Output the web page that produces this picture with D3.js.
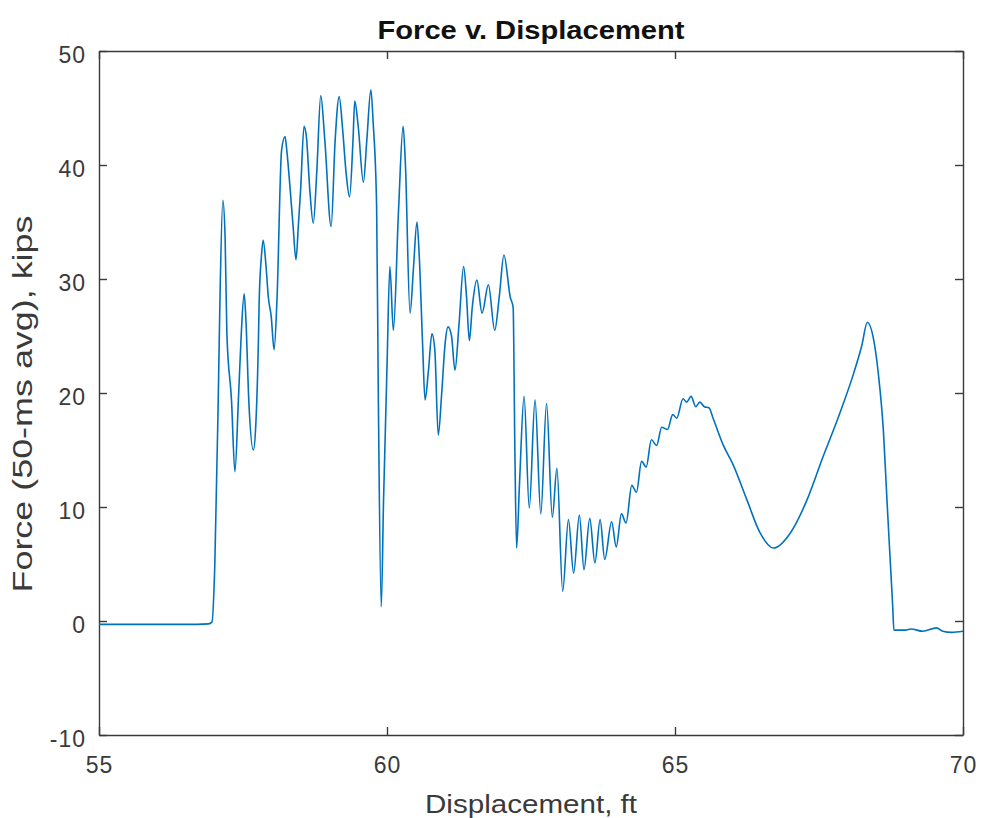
<!DOCTYPE html>
<html>
<head>
<meta charset="utf-8">
<script src="https://cdn.jsdelivr.net/npm/d3@7"></script>
<style>
  body { margin: 0; background: #fff; }
  text { font-family: "Liberation Sans", Arial, Helvetica, sans-serif; }
</style>
</head>
<body>
<div id="chart"></div>
<script>
// Displacement (ft) and force (kips)
var displacement = [
  55.00, 55.50, 56.00, 56.50, 56.90, 56.96, 57.01, 57.07, 57.10, 57.15,
  57.19, 57.22, 57.30, 57.36, 57.42, 57.47, 57.52, 57.55, 57.60, 57.68,
  57.72, 57.77, 57.78, 57.82, 57.85, 57.90, 57.94, 57.99, 58.04, 58.09,
  58.17, 58.23, 58.26, 58.32, 58.37, 58.42, 58.46, 58.50, 58.56, 58.60,
  58.66, 58.72, 58.78, 58.85, 58.92, 59.03, 59.10, 59.17, 59.23, 59.29,
  59.35, 59.41, 59.44, 59.50, 59.59, 59.65, 59.72, 59.76, 59.82, 59.85,
  59.90, 59.94, 60.00, 60.05, 60.11, 60.20, 60.28, 60.32, 60.40, 60.46,
  60.52, 60.56, 60.62, 60.66, 60.72, 60.78, 60.83, 60.89, 60.95, 61.01,
  61.06, 61.12, 61.18, 61.25, 61.33, 61.38, 61.43, 61.48, 61.56, 61.65,
  61.76, 61.87, 61.95, 62.03, 62.14, 62.19, 62.22, 62.25, 62.30, 62.38,
  62.47, 62.57, 62.67, 62.77, 62.87, 62.95, 63.05, 63.15, 63.24, 63.34,
  63.42, 63.52, 63.61, 63.70, 63.78, 63.90, 63.98, 64.07, 64.15, 64.25,
  64.33, 64.42, 64.50, 64.59, 64.68, 64.77, 64.87, 64.96, 65.03, 65.14,
  65.20, 65.28, 65.36, 65.43, 65.51, 65.59, 65.66, 65.84, 66.01, 66.25,
  66.48, 66.71, 67.00, 67.29, 67.57, 67.86, 68.10, 68.24, 68.34, 68.44,
  68.53, 68.62, 68.68, 68.73, 68.78, 68.80, 69.00, 69.10, 69.30, 69.54,
  69.65, 69.80, 70.00
]
var force = [
  -0.3, -0.3, -0.3, -0.3, -0.25, -0.1, 4.8, 19.4, 28.2, 36.9,
  33.5, 25.2, 19.4, 13.1, 19.4, 25.2, 28.7, 26.5, 19.4, 15.0,
  17.0, 25.2, 27.9, 32.0, 33.4, 31.1, 28.4, 26.7, 23.8, 28.2,
  41.3, 42.5, 41.3, 37.8, 34.6, 31.7, 34.6, 37.8, 43.4, 42.5,
  37.8, 34.9, 39.3, 46.1, 42.2, 34.6, 42.2, 46.0, 43.1, 39.3,
  37.2, 42.2, 45.6, 43.4, 38.5, 42.2, 46.6, 43.7, 36.3, 19.4,
  1.25, 10.6, 22.3, 31.1, 25.5, 36.0, 43.4, 40.0, 27.0, 31.0,
  35.0, 32.0, 24.0, 19.4, 22.0, 25.2, 23.8, 16.3, 20.0, 24.4,
  25.8, 25.0, 22.0, 26.0, 31.1, 28.5, 24.6, 27.5, 29.9, 27.0,
  29.5, 25.5, 28.5, 32.1, 28.4, 27.5, 15.0, 6.4, 12.0, 19.7,
  9.9, 19.4, 9.4, 19.1, 9.1, 13.4, 2.6, 8.9, 4.2, 9.3,
  4.5, 9.0, 5.1, 8.9, 5.4, 8.7, 6.5, 9.4, 8.6, 11.9,
  11.3, 14.0, 13.5, 15.9, 15.4, 17.0, 16.8, 18.1, 17.8, 19.5,
  19.2, 19.7, 18.8, 19.2, 18.8, 18.7, 17.8, 15.4, 13.7, 10.6,
  7.7, 6.4, 7.7, 10.6, 14.4, 18.2, 21.7, 24.1, 26.2, 24.9,
  21.7, 16.5, 10.6, 5.9, 1.25, -0.8, -0.8, -0.7, -0.9, -0.6,
  -0.9, -1.0, -0.9
]

var xTicks = [55, 60, 65, 70]
var yTicks = [-10, 0, 10, 20, 30, 40, 50]

var titleText = 'Force v. Displacement'
var xLabelText = 'Displacement, ft'
var yLabelText = 'Force (50-ms avg), kips'

// Size of page and plot box
const width = 981
const height = 818
const margin = { top: 51, right: 18, bottom: 83, left: 99 }
const innerW = width - margin.left - margin.right
const innerH = height - margin.top - margin.bottom

var svg = d3
  .select('#chart')
  .append('svg')
  .attr('width', width)
  .attr('height', height)

var g = svg.append('g')
  .attr('transform', 'translate(' + margin.left + ',' + margin.top + ')')

var x = d3.scaleLinear().domain([55, 70]).range([0, innerW])
var y = d3.scaleLinear().domain([-10, 50]).range([innerH, 0])

var axisColor = '#3a3a3a'
// plain hyphen for negatives, like MATLAB
var plain = function (d) { return String(d) }

// Axes, ticks point inward like MATLAB (box on)
var xAxis = g.append('g')
  .attr('transform', 'translate(0,' + innerH + ')')
  .call(d3.axisBottom(x).tickValues(xTicks).tickFormat(plain).tickSize(-8).tickSizeOuter(0).tickPadding(22))
var yAxis = g.append('g')
  .call(d3.axisLeft(y).tickValues(yTicks).tickFormat(plain).tickSize(-8).tickSizeOuter(0).tickPadding(13))
var topAxis = g.append('g')
  .call(d3.axisTop(x).tickValues(xTicks).tickSize(-8).tickSizeOuter(0).tickFormat(''))
var rightAxis = g.append('g')
  .attr('transform', 'translate(' + innerW + ',0)')
  .call(d3.axisRight(y).tickValues(yTicks).tickSize(-8).tickSizeOuter(0).tickFormat(''))

g.selectAll('.domain, .tick line')
  .attr('stroke', axisColor)
  .attr('stroke-width', 1.4)

xAxis.selectAll('text')
  .attr('font-size', 23)
  .attr('letter-spacing', 1)
  .attr('fill', '#3a3a3a')
  .attr('dy', '0.7em')
yAxis.selectAll('text')
  .attr('font-size', 23)
  .attr('letter-spacing', 1)
  .attr('fill', '#3a3a3a')
  .attr('dy', '0.5em')

// The force trace
var line = d3.line()
  .x(function (d, i) { return x(displacement[i]) })
  .y(function (d) { return y(d) })
  .curve(d3.curveMonotoneX)

g.append('path')
  .datum(force)
  .attr('fill', 'none')
  .attr('stroke', '#0072BD')
  .attr('stroke-width', 1.6)
  .attr('stroke-linejoin', 'round')
  .attr('d', line)

// Title and labels
svg.append('text')
  .attr('x', margin.left + innerW / 2)
  .attr('y', 39)
  .attr('text-anchor', 'middle')
  .attr('font-size', 26)
  .attr('font-weight', 'bold')
  .attr('fill', '#111')
  .attr('textLength', 307)
  .attr('lengthAdjust', 'spacingAndGlyphs')
  .text(titleText)

svg.append('text')
  .attr('x', margin.left + innerW / 2)
  .attr('y', 813)
  .attr('text-anchor', 'middle')
  .attr('font-size', 26)
  .attr('fill', '#3a3a3a')
  .attr('textLength', 212)
  .attr('lengthAdjust', 'spacingAndGlyphs')
  .text(xLabelText)

svg.append('text')
  .attr('transform', 'translate(32,404) rotate(-90)')
  .attr('text-anchor', 'middle')
  .attr('font-size', 27)
  .attr('fill', '#3a3a3a')
  .attr('textLength', 377)
  .attr('lengthAdjust', 'spacingAndGlyphs')
  .text(yLabelText)
</script>
</body>
</html>
